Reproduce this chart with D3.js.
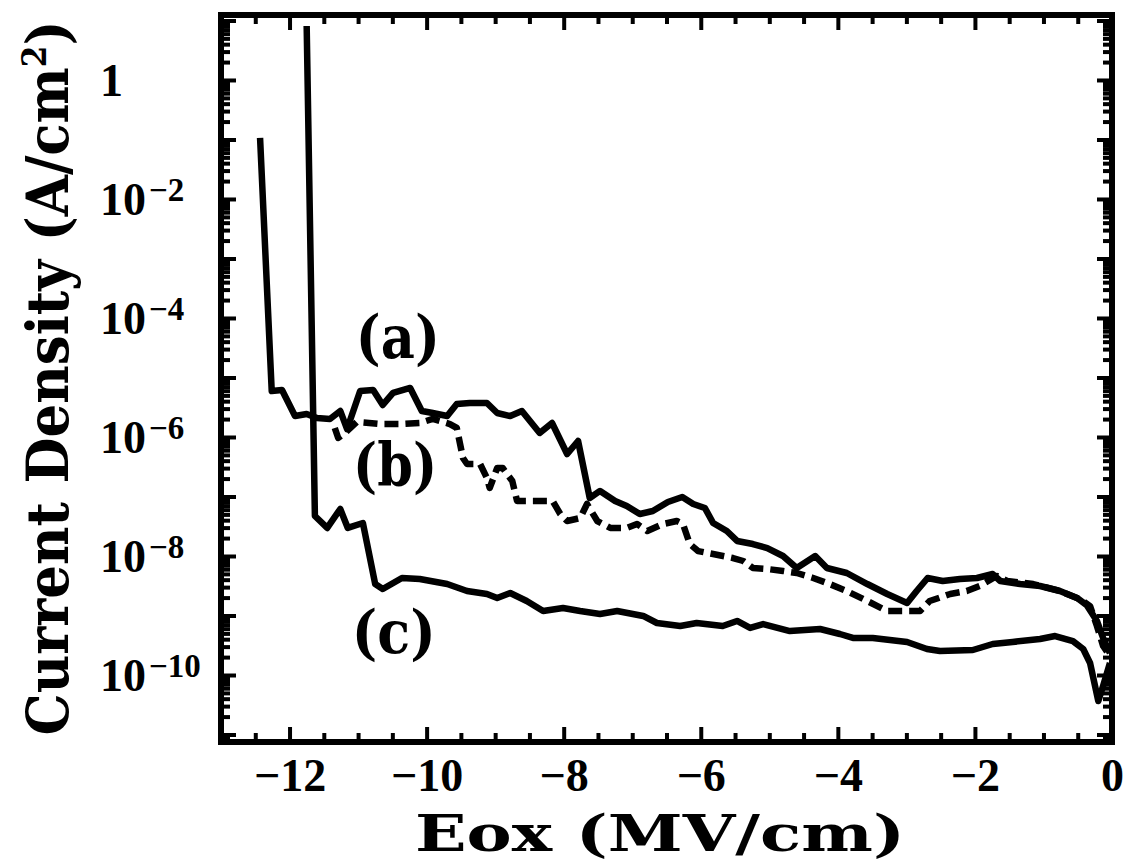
<!DOCTYPE html>
<html>
<head>
<meta charset="utf-8">
<script src="https://cdn.jsdelivr.net/npm/d3@7"></script>
<style>
  html, body { margin: 0; padding: 0; background: #fff; }
  svg { display: block; }
</style>
</head>
<body>
<svg id="chart" width="1134" height="863"></svg>
<script>
// Oxide field (MV/cm) and current density (A/cm^2) for the three samples

// (a) solid
const eoxA = [-12.43, -12.26, -12.11, -11.92, -11.75, -11.60, -11.41, -11.26, -11.16, -10.97,
  -10.78, -10.64, -10.49, -10.24, -10.07, -9.91, -9.70, -9.56, -9.37, -9.12,
  -8.97, -8.78, -8.61, -8.35, -8.17, -7.95, -7.79, -7.62, -7.47, -7.25,
  -7.08, -6.89, -6.70, -6.48, -6.27, -6.11, -5.94, -5.82, -5.62, -5.47,
  -5.24, -5.03, -4.80, -4.60, -4.33, -4.16, -3.87, -3.57, -3.28, -2.99,
  -2.85, -2.69, -2.47, -2.22, -1.97, -1.74, -1.63, -1.34, -1.05, -0.76,
  -0.51, -0.37, -0.22, -0.13, -0.03];
const jA = [1.06e-1, 5.93e-6, 6.17e-6, 2.25e-6, 2.44e-6, 2.09e-6, 2.01e-6, 2.74e-6, 1.36e-6, 5.93e-6,
  6.17e-6, 3.45e-6, 5.49e-6, 6.67e-6, 2.74e-6, 2.53e-6, 2.25e-6, 3.59e-6, 3.73e-6, 3.73e-6,
  2.53e-6, 2.25e-6, 2.74e-6, 1.17e-6, 1.72e-6, 5.18e-7, 8.57e-7, 9.44e-8, 1.24e-7, 8.40e-8,
  6.92e-8, 5.08e-8, 5.70e-8, 8.09e-8, 9.82e-8, 7.48e-8, 6.41e-8, 3.59e-8, 2.63e-8, 1.79e-8,
  1.59e-8, 1.36e-8, 1.00e-8, 6.29e-9, 1.00e-8, 6.29e-9, 5.18e-9, 3.38e-9, 2.30e-9, 1.62e-9,
  2.58e-9, 4.27e-9, 3.80e-9, 4.10e-9, 4.27e-9, 4.98e-9, 3.80e-9, 3.38e-9, 3.13e-9, 2.58e-9,
  1.97e-9, 1.50e-9, 8.09e-10, 4.19e-10, 2.34e-10];

// (b) dashed
const eoxB = [-11.34, -11.29, -11.19, -11.02, -10.68, -10.39, -10.10, -9.91, -9.66, -9.56,
  -9.47, -9.41, -9.22, -9.12, -9.08, -8.97, -8.89, -8.75, -8.68, -8.54,
  -8.16, -8.05, -7.95, -7.76, -7.66, -7.51, -7.32, -7.08, -6.93, -6.78,
  -6.55, -6.35, -6.26, -6.16, -6.04, -5.82, -5.53, -5.38, -5.24, -5.03,
  -4.80, -4.60, -4.36, -4.12, -3.87, -3.57, -3.28, -3.05, -2.80, -2.66,
  -2.36, -2.12, -1.93, -1.68, -1.53, -1.15, -0.76, -0.47, -0.32, -0.22,
  -0.13, -0.03];
const jB = [1.42e-6, 9.62e-7, 1.17e-6, 1.79e-6, 1.65e-6, 1.65e-6, 1.72e-6, 2.01e-6, 1.65e-6, 1.42e-6,
  4.44e-7, 3.52e-7, 3.52e-7, 2.05e-7, 1.39e-7, 3.01e-7, 3.01e-7, 1.82e-7, 8.40e-8, 8.40e-8,
  8.40e-8, 5.08e-8, 3.87e-8, 4.35e-8, 7.48e-8, 3.87e-8, 2.96e-8, 2.96e-8, 3.45e-8, 2.63e-8,
  3.45e-8, 3.87e-8, 3.45e-8, 1.59e-8, 1.21e-8, 1.08e-8, 9.25e-9, 8.24e-9, 6.29e-9, 6.05e-9,
  5.60e-9, 5.18e-9, 4.27e-9, 3.38e-9, 2.58e-9, 1.75e-9, 1.19e-9, 1.19e-9, 1.19e-9, 1.75e-9,
  2.30e-9, 2.58e-9, 3.13e-9, 4.61e-9, 3.80e-9, 3.38e-9, 2.58e-9, 1.89e-9, 1.44e-9, 6.67e-10,
  3.07e-10, 2.09e-10];

// (c) solid
const eoxC = [-11.75, -11.63, -11.45, -11.26, -11.15, -10.93, -10.75, -10.64, -10.36, -10.10,
  -9.70, -9.41, -9.12, -8.97, -8.78, -8.54, -8.30, -8.01, -7.76, -7.47,
  -7.22, -6.84, -6.64, -6.30, -6.06, -5.68, -5.47, -5.28, -5.09, -4.70,
  -4.26, -3.97, -3.78, -3.49, -2.99, -2.70, -2.51, -2.03, -1.74, -1.45,
  -1.05, -0.83, -0.57, -0.42, -0.32, -0.20, -0.13, -0.03];
const jC = [8.09, 4.70e-8, 2.96e-8, 6.17e-8, 2.96e-8, 3.59e-8, 3.38e-9, 2.79e-9, 4.27e-9, 4.10e-9,
  3.38e-9, 2.58e-9, 2.30e-9, 1.97e-9, 2.39e-9, 1.75e-9, 1.19e-9, 1.34e-9, 1.19e-9, 1.06e-9,
  1.19e-9, 9.82e-10, 7.48e-10, 6.67e-10, 7.48e-10, 6.67e-10, 8.09e-10, 6.17e-10, 7.19e-10, 5.48e-10,
  5.93e-10, 4.89e-10, 4.19e-10, 4.19e-10, 3.59e-10, 2.74e-10, 2.53e-10, 2.63e-10, 3.32e-10, 3.59e-10,
  4.03e-10, 4.52e-10, 3.72e-10, 2.74e-10, 1.59e-10, 3.66e-11, 6.53e-11, 1.59e-10];

// Axis ticks and labels
const xMajorTicks = [-12, -10, -8, -6, -4, -2, 0];
const xTickLabels = ["\u221212", "\u221210", "\u22128", "\u22126", "\u22124", "\u22122", "0"];
const yLabelExponents = [0, -2, -4, -6, -8, -10];
const xTitle = "Eox (MV/cm)";
const yTitle = "Current Density (A/cm";
const curveLabels = ["(a)", "(b)", "(c)"];
const curveLabelAnchors = [[-10.42, 2.1e-5], [-10.46, 1.5e-7], [-10.48, 2.3e-10]];

const svg = d3.select("#chart");
const plot = { left: 221, right: 1112, top: 15, bottom: 742 };

const x = d3.scaleLinear().domain([-13, 0]).range([plot.left, plot.right]);
const y = d3.scaleLog().domain([Math.pow(10, -11.126), Math.pow(10, 1.092)]).range([plot.bottom, plot.top]);

const tickFont = "'Liberation Serif', 'Times New Roman', serif";
const titleFont = "'DejaVu Serif', 'Liberation Serif', serif";

// minor ticks
const xMinorTicks = d3.range(-12.5, 0, 0.5).filter(v => Math.abs(v % 2) > 1e-9);
const yMajorTicks = d3.range(-11, 2).map(e => Math.pow(10, e));
const yMinorTicks = [];
d3.range(-12, 2).forEach(e => {
  for (let m = 2; m <= 9; m++) {
    const v = m * Math.pow(10, e);
    if (v > y.domain()[0] && v < y.domain()[1]) yMinorTicks.push(v);
  }
});

function styleTicks(g) {
  g.select(".domain").remove();
  g.selectAll(".tick line").attr("stroke", "#000").attr("stroke-width", 4);
}

// bottom axis
svg.append("g").attr("transform", `translate(0,${plot.bottom})`)
  .call(d3.axisBottom(x).tickValues(xMinorTicks).tickSize(-9).tickFormat(""))
  .call(styleTicks);
const gxb = svg.append("g").attr("transform", `translate(0,${plot.bottom})`)
  .call(d3.axisBottom(x).tickValues(xMajorTicks).tickSize(-15)
    .tickFormat((d, i) => xTickLabels[i]))
  .call(styleTicks);
gxb.selectAll(".tick text")
  .attr("y", 49).attr("dy", 0)
  .attr("font-family", tickFont).attr("font-weight", "bold")
  .attr("font-size", 46).attr("fill", "#000");

// top axis
svg.append("g").attr("transform", `translate(0,${plot.top})`)
  .call(d3.axisTop(x).tickValues(xMinorTicks).tickSize(-9).tickFormat(""))
  .call(styleTicks);
svg.append("g").attr("transform", `translate(0,${plot.top})`)
  .call(d3.axisTop(x).tickValues(xMajorTicks).tickSize(-15).tickFormat(""))
  .call(styleTicks);

// left axis
svg.append("g").attr("transform", `translate(${plot.left},0)`)
  .call(d3.axisLeft(y).tickValues(yMinorTicks).tickSize(-9).tickFormat(""))
  .call(styleTicks);
const gyl = svg.append("g").attr("transform", `translate(${plot.left},0)`)
  .call(d3.axisLeft(y).tickValues(yMajorTicks).tickSize(-15).tickFormat(""))
  .call(styleTicks);

gyl.selectAll(".tick").each(function(d) {
  const e = Math.round(Math.log10(d));
  const t = d3.select(this).select("text");
  if (!yLabelExponents.includes(e)) { t.remove(); return; }
  t.attr("x", 100 - plot.left).attr("dy", "0.33em")
    .attr("text-anchor", "start")
    .attr("font-family", tickFont).attr("font-weight", "bold")
    .attr("font-size", 46).attr("fill", "#000");
  if (e === 0) {
    t.text("1");
  } else {
    t.text("10");
    t.append("tspan").attr("dx", 3).attr("dy", -14).attr("font-size", 33).text("\u2212" + Math.abs(e));
  }
});

// right axis
svg.append("g").attr("transform", `translate(${plot.right},0)`)
  .call(d3.axisRight(y).tickValues(yMinorTicks).tickSize(-9).tickFormat(""))
  .call(styleTicks);
svg.append("g").attr("transform", `translate(${plot.right},0)`)
  .call(d3.axisRight(y).tickValues(yMajorTicks).tickSize(-15).tickFormat(""))
  .call(styleTicks);

// frame
svg.append("rect")
  .attr("x", plot.left).attr("y", plot.top)
  .attr("width", plot.right - plot.left).attr("height", plot.bottom - plot.top)
  .attr("fill", "none").attr("stroke", "#000").attr("stroke-width", 6);

// curves
const line = d3.line().x(d => x(d[0])).y(d => y(d[1]));
const series = [
  { xs: eoxA, ys: jA, dash: null },
  { xs: eoxB, ys: jB, dash: "14,7" },
  { xs: eoxC, ys: jC, dash: null }
];
svg.append("g").selectAll("path").data(series).join("path")
  .attr("d", s => line(d3.zip(s.xs, s.ys)))
  .attr("fill", "none").attr("stroke", "#000")
  .attr("stroke-width", 6.5)
  .attr("stroke-linejoin", "round")
  .attr("stroke-dasharray", s => s.dash);

// curve labels
svg.append("g").selectAll("text").data(curveLabels).join("text")
  .attr("x", (d, i) => x(curveLabelAnchors[i][0]))
  .attr("y", (d, i) => y(curveLabelAnchors[i][1]))
  .attr("text-anchor", "middle")
  .attr("font-family", titleFont).attr("font-weight", "bold")
  .attr("font-size", 60).attr("fill", "#000")
  .attr("textLength", 84).attr("lengthAdjust", "spacingAndGlyphs")
  .text(d => d);

// axis titles
svg.append("text")
  .attr("x", 660).attr("y", 851)
  .attr("text-anchor", "middle")
  .attr("font-family", titleFont).attr("font-weight", "bold")
  .attr("font-size", 50).attr("fill", "#000")
  .attr("textLength", 490).attr("lengthAdjust", "spacingAndGlyphs")
  .text(xTitle);

const yt = svg.append("text")
  .attr("transform", "translate(68,378) rotate(-90)")
  .attr("text-anchor", "middle")
  .attr("font-family", titleFont).attr("font-weight", "bold")
  .attr("font-size", 58).attr("fill", "#000")
  .attr("textLength", 715).attr("lengthAdjust", "spacingAndGlyphs");
yt.append("tspan").text(yTitle);
yt.append("tspan").attr("dy", -22).attr("font-size", 34).text("2");
yt.append("tspan").attr("dy", 22).text(")");
</script>
</body>
</html>
